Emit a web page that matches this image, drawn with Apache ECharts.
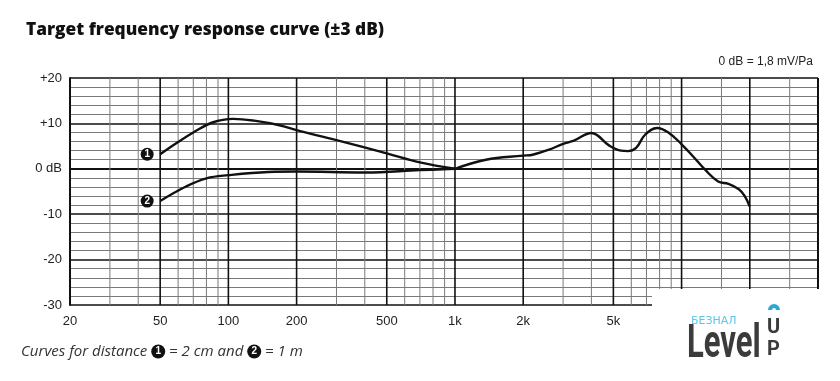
<!DOCTYPE html>
<html><head><meta charset="utf-8">
<script src="https://cdn.jsdelivr.net/npm/echarts@6/dist/echarts.min.js"></script>
<style>html,body{margin:0;padding:0;background:#fff}#c{width:840px;height:381px}</style>
</head><body><div id="c"></div>
<script>
// Curve 1: distance 2 cm (50 Hz .. 1 kHz)
const near2cmFreq = [50, 60, 70, 85, 105, 130, 168, 200, 300, 500, 700, 1000];
const near2cmDb   = [3.2, 5.9, 8.0, 10.2, 11.0, 10.6, 9.6, 8.5, 6.3, 3.4, 1.4, 0];
// Curve 2: distance 1 m (50 Hz .. 1 kHz)
const far1mFreq = [50, 65, 80, 100, 150, 200, 400, 700, 1000];
const far1mDb   = [-7.1, -3.9, -2.1, -1.4, -0.7, -0.6, -0.8, -0.3, 0];
// Shared part of both curves (1 kHz .. 20 kHz)
const sharedFreq = [1000, 1370, 2000, 2200, 2600, 3000, 3350, 4000, 4800, 5400, 5800, 6300, 6900, 7800, 8800, 10000, 11300, 12700, 14500, 16100, 17900, 19000, 20000];
const sharedDb   = [0, 2.0, 2.9, 3.1, 4.2, 5.5, 6.2, 7.9, 5.1, 4.0, 3.9, 4.6, 7.5, 9.0, 7.9, 5.4, 2.6, -0.2, -2.8, -3.3, -4.5, -6.0, -8.3];
// Axis ticks / grid
const xTickLabels = [20, 50, 100, 200, 500, 1000, 2000, 5000];
const boldGridFreq = [50, 100, 200, 500, 1000, 2000, 5000, 10000, 20000, 40000];
const minorGridFreq = [30, 40, 60, 70, 80, 90, 300, 400, 600, 700, 800, 900, 3000, 4000, 6000, 7000, 8000, 9000, 15000, 30000];

const pairs = (f, v) => f.map((x, i) => [x, v[i]]);
const gridData = boldGridFreq.map(f => [f, 1]).concat(minorGridFreq.map(f => [f, 0]));

const markerAt = (f, v, n) => ({
  silent: true,
  symbol: 'circle', symbolSize: 13, symbolOffset: [-13, 0],
  itemStyle: { color: '#111' },
  label: { show: true, position: 'inside', formatter: n, color: '#fff', fontSize: 10, fontWeight: 'bold',
           fontFamily: 'Liberation Sans' },
  data: [{ coord: [f, v] }]
});
const fmtFreq = v => v >= 1000 ? (v / 1000) + 'k' : String(v);

const chart = echarts.init(document.getElementById('c'), null, { renderer: 'canvas' });
chart.setOption({
  animation: false,
  backgroundColor: '#fff',
  grid: { left: 70, right: 22, top: 78, bottom: 76 },
  xAxis: {
    type: 'log', logBase: 10, min: 20, max: 40000,
    axisLine: { show: true, lineStyle: { color: '#111', width: 2 } },
    axisTick: { show: false },
    splitLine: { show: false },
    axisLabel: { customValues: xTickLabels, formatter: fmtFreq, color: '#222', fontSize: 13,
                 fontFamily: 'Liberation Sans', margin: 10 }
  },
  yAxis: {
    type: 'value', min: -30, max: 20, interval: 10,
    axisLine: { show: true, lineStyle: { color: '#111', width: 2 } },
    axisTick: { show: false },
    axisLabel: { color: '#222', fontSize: 13, fontFamily: 'Liberation Sans', margin: 8,
                 formatter: v => v === 0 ? '0 dB' : (v > 0 ? '+' + v : String(v)) },
    splitLine: { show: true, lineStyle: { color: '#111', width: 1.6 } },
    minorTick: { show: false, splitNumber: 5 },
    minorSplitLine: { show: true, lineStyle: { color: '#7a7a7a', width: 1 } }
  },
  title: [
    { text: 'Target frequency response curve (±3 dB)', left: 21, top: 17,
      textStyle: { fontFamily: 'Open Sans', fontWeight: 800, fontSize: 17.3, color: '#111' } },
    { text: '0 dB = 1,8 mV/Pa', right: 22, top: 51,
      textStyle: { fontFamily: 'Liberation Sans', fontWeight: 'normal', fontSize: 12, color: '#222' } }
  ],
  series: [
    {
      type: 'custom', silent: true, z: 1,
      data: gridData,
      renderItem: (params, api) => {
        const f = api.value(0), bold = api.value(1);
        const p1 = api.coord([f, -30]), p2 = api.coord([f, 20]);
        return { type: 'line', shape: { x1: p1[0], y1: p1[1], x2: p2[0], y2: p2[1] },
                 style: { stroke: bold ? '#111' : '#7a7a7a', lineWidth: bold ? (f === 40000 ? 2 : 1.6) : 1 } };
      }
    },
    { type: 'line', name: '2 cm', data: pairs(near2cmFreq, near2cmDb), smooth: 0.4, symbol: 'none',
      lineStyle: { color: '#111', width: 2.4 }, z: 5,
      markPoint: markerAt(near2cmFreq[0], near2cmDb[0], '1') },
    { type: 'line', name: '1 m', data: pairs(far1mFreq, far1mDb), smooth: 0.4, symbol: 'none',
      lineStyle: { color: '#111', width: 2.4 }, z: 5,
      markPoint: markerAt(far1mFreq[0], far1mDb[0], '2') },
    { type: 'line', name: 'shared', data: pairs(sharedFreq, sharedDb), smooth: 0.4, symbol: 'none',
      lineStyle: { color: '#111', width: 2.4 }, z: 5 }
  ],
  graphic: [
    { type: 'rect', z: 100, shape: { x: 652, y: 289, width: 188, height: 92 }, style: { fill: '#fff' } },
    { type: 'text', z: 101, left: 21, top: 344,
      style: {
        text: '{t|Curves for distance }{c|1}{t| = 2 cm and }{c|2}{t| = 1 m}',
        rich: {
          t: { font: 'italic 15px "Open Sans"', fill: '#333' },
          c: { backgroundColor: '#111', fill: '#fff', width: 14, height: 14, borderRadius: 7, align: 'center',
               lineHeight: 15, font: 'bold 10px "Liberation Sans"' }
        }
      } },
    { type: 'text', z: 101, left: 691, top: 316,
      style: { text: 'БЕЗНАЛ', font: '11px "DejaVu Sans"', fill: '#5cc6e6', letterSpacing: 3 } },
    { type: 'text', z: 101, x: 687, y: 322, scaleX: 0.66,
      style: { text: 'Level', font: 'bold 47px Roboto', fill: '#3b3b3b' } },
    { type: 'text', z: 101, x: 767, y: 317, scaleX: 0.95,
      style: { text: 'U', font: 'bold 21px Roboto', fill: '#3b3b3b' } },
    { type: 'text', z: 101, x: 767, y: 339, scaleX: 0.95,
      style: { text: 'P', font: 'bold 21px Roboto', fill: '#3b3b3b' } },
    { type: 'arc', z: 101, shape: { cx: 774, cy: 310, r: 4, startAngle: Math.PI, endAngle: 2 * Math.PI },
      style: { stroke: '#2aa9d8', lineWidth: 4, fill: 'none' } }
  ]
});
</script></body></html>
